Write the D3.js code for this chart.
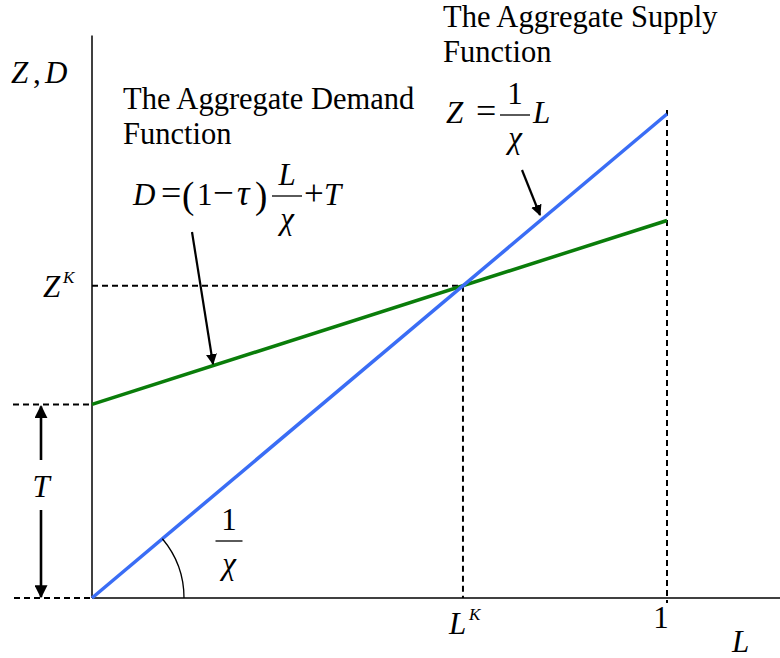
<!DOCTYPE html>
<html>
<head>
<meta charset="utf-8">
<script src="https://cdn.jsdelivr.net/npm/d3@7"></script>
<style>
  body { margin: 0; background: #fff; }
  svg { display: block; }
</style>
</head>
<body>
<div id="chart"></div>
<script>
// Datos del gráfico
const labourPoints = [0, 1];          // L
const supplyValues = [0, 1.0];        // Z = L / chi
const demandValues = [0.40, 0.78];    // D = (1 - tau) L / chi + T
const xTickLabels = ['L^K', '1'];
const yTickLabels = ['Z^K'];
const titles = [['The Aggregate Demand', 'Function'], ['The Aggregate Supply', 'Function']];

const W = 780, H = 658;
const FONT = "'Liberation Serif', monospace";
const svg = d3.select('#chart').append('svg').attr('width', W).attr('height', H);

const x = d3.scaleLinear().domain([0, 1]).range([92, 667]);
const y = d3.scaleLinear().domain([0, 1]).range([598, 114]);

// punto de equilibrio: interseccion de las dos rectas
const sSlope = (supplyValues[1] - supplyValues[0]) / (labourPoints[1] - labourPoints[0]);
const dSlope = (demandValues[1] - demandValues[0]) / (labourPoints[1] - labourPoints[0]);
const lK = (demandValues[0] - supplyValues[0]) / (sSlope - dSlope);
const zK = supplyValues[0] + sSlope * lK;
const tVal = demandValues[0];

// marcador de flecha
svg.append('defs').append('marker')
  .attr('id', 'head')
  .attr('viewBox', '0 0 10 10')
  .attr('refX', 9).attr('refY', 5)
  .attr('markerWidth', 5).attr('markerHeight', 5)
  .attr('markerUnits', 'strokeWidth')
  .attr('orient', 'auto')
  .append('path').attr('d', 'M0,0 L10,5 L0,10 Z').attr('fill', '#000');

// texto auxiliar
const txt = (px, py, s, size, it, anchor) => svg.append('text')
  .attr('x', px).attr('y', py)
  .style('font-family', FONT)
  .style('font-size', (size || 31) + 'px')
  .style('font-style', it ? 'italic' : 'normal')
  .attr('fill', '#000')
  .attr('text-anchor', anchor || 'start').text(s);

// ejes
svg.append('line').attr('x1', x(0)).attr('x2', x(0)).attr('y1', y(1.162)).attr('y2', y(0))
  .attr('stroke', '#000').attr('stroke-width', 1.5);
svg.append('line').attr('x1', x(0)).attr('x2', x(1.197)).attr('y1', y(0)).attr('y2', y(0))
  .attr('stroke', '#000').attr('stroke-width', 1.5);

// lineas discontinuas
const dash = (x1, y1, x2, y2) => svg.append('line')
  .attr('x1', x1).attr('y1', y1).attr('x2', x2).attr('y2', y2)
  .attr('stroke', '#000').attr('stroke-width', 2).attr('stroke-dasharray', '6,4');
dash(x(0), y(zK), x(lK), y(zK));
dash(x(lK), y(zK), x(lK), y(0));
dash(x(1), y(supplyValues[1]) - 4, x(1), y(0) + 5);
dash(13, y(tVal), x(0), y(tVal));
dash(14, y(0), x(0), y(0));

// curvas
const line = d3.line().x(d => x(d[0])).y(d => y(d[1]));
svg.append('path').datum(labourPoints.map((l, i) => [l, demandValues[i]]))
  .attr('fill', 'none').attr('stroke', '#0a7d0a').attr('stroke-width', 3.5).attr('d', line);
svg.append('path').datum(labourPoints.map((l, i) => [l, supplyValues[i]]))
  .attr('fill', 'none').attr('stroke', '#3a6df5').attr('stroke-width', 3.5).attr('d', line);

// arco del angulo
const arc = d3.arc().innerRadius(92).outerRadius(92)
  .startAngle(Math.PI / 2 - Math.atan((y(0) - y(sSlope * 0.2)) / (x(0.2) - x(0))))
  .endAngle(Math.PI / 2);
svg.append('path').attr('transform', `translate(${x(0)},${y(0)})`)
  .attr('d', arc()).attr('fill', 'none').attr('stroke', '#000').attr('stroke-width', 1.3);

// flecha doble de T
const tx = 41;
svg.append('line').attr('x1', tx).attr('x2', tx).attr('y1', 460).attr('y2', y(tVal) + 2)
  .attr('stroke', '#000').attr('stroke-width', 2.6).attr('marker-end', 'url(#head)');
svg.append('line').attr('x1', tx).attr('x2', tx).attr('y1', 510).attr('y2', y(0) - 1)
  .attr('stroke', '#000').attr('stroke-width', 2.6).attr('marker-end', 'url(#head)');
txt(tx, 497, 'T', 31, true, 'middle');

// etiquetas de ejes
const sup = (px, py, base, s) => {
  txt(px, py, base, 31, true);
  txt(px + 20, py - 14, s, 17, true);
};
const [xb, xs] = xTickLabels[0].split('^');
sup(x(lK) - 14, 634, xb, xs);
txt(x(1) - 6, 628, xTickLabels[1], 31, false, 'middle');
const [yb, ys] = yTickLabels[0].split('^');
sup(43, 297, yb, ys);

txt(732, 652, 'L', 31, true);
txt(11, 83, 'Z', 31, true);
txt(33, 83, ',', 31, false);
txt(45, 83, 'D', 31, true);

// fracciones
const frac = (cx, barY, barW, num, den, numIt) => {
  svg.append('line').attr('x1', cx - barW / 2).attr('x2', cx + barW / 2)
    .attr('y1', barY).attr('y2', barY).attr('stroke', '#000').attr('stroke-width', 1.3);
  txt(cx, barY - 11, num, 31, numIt, 'middle');
  txt(cx, barY + 33, den, 31, true, 'middle');
};
frac(229, 541, 27, '1', 'χ');

// titulos
titles[0].forEach((t, i) => txt(123, 109 + i * 35, t, 30.5, false));
titles[1].forEach((t, i) => txt(443, 27 + i * 35, t, 30.5, false));

// formula de la oferta
txt(446, 123, 'Z', 31, true);
txt(476, 123, '=', 36, false);
frac(515, 115, 30, '1', 'χ');
txt(533, 123, 'L', 31, true);

// formula de la demanda
txt(133, 205, 'D', 31, true);
txt(161, 205, '=', 36, false);
txt(182, 208, '(', 37, false);
txt(197, 205, '1', 31, false);
txt(213, 205, '−', 37, false);
txt(237, 205, 'τ', 35, true);
txt(255, 208, ')', 37, false);
frac(287, 196, 30, 'L', 'χ', true);
txt(304, 205, '+', 35, false);
txt(324, 205, 'T', 31, true);

// flechas de anotacion
svg.append('line').attr('x1', 192).attr('y1', 232).attr('x2', 213).attr('y2', 364)
  .attr('stroke', '#000').attr('stroke-width', 2.2).attr('marker-end', 'url(#head)');
svg.append('line').attr('x1', 522).attr('y1', 170).attr('x2', 540).attr('y2', 215)
  .attr('stroke', '#000').attr('stroke-width', 2.2).attr('marker-end', 'url(#head)');
</script>
</body>
</html>
